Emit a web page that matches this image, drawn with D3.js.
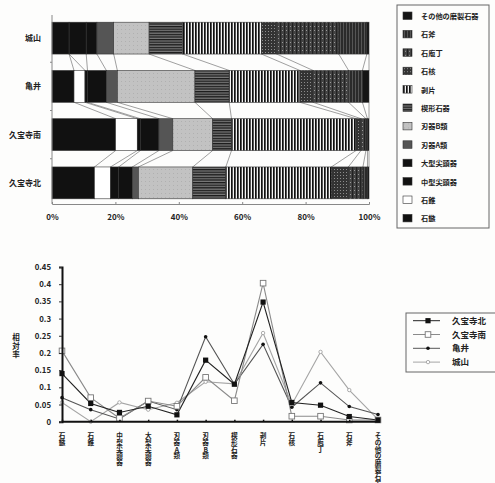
<!DOCTYPE html>
<html>
<head>
<meta charset="utf-8">
<script src="https://cdn.jsdelivr.net/npm/d3@7"></script>
<style>
  body { margin: 0; background: #fdfdfc; }
  text { font-family: "Noto Sans CJK JP", sans-serif; font-weight: bold; fill: #222; }
</style>
</head>
<body>
<svg id="chart" width="495" height="483"></svg>
<script>
// stone tool categories (x axis of the line chart / stack order of the bars)
const types = ["石鏃", "石錐", "中型尖頭器", "大型尖頭器", "刃器A類", "刃器B類", "楔形石器", "剥片", "石核", "石庖丁", "石斧", "その他の磨製石器"];
const barSites = ["城山", "亀井", "久宝寺南", "久宝寺北"];
const lineSites = ["久宝寺北", "久宝寺南", "亀井", "城山"];
const pctTicks = [0, 0.2, 0.4, 0.6, 0.8, 1];
const rateTicks = [0, 0.05, 0.1, 0.15, 0.2, 0.25, 0.3, 0.35, 0.4, 0.45];

// relative rates
const kyuhojiKita   = [0.14, 0.053, 0.027, 0.045, 0.02, 0.179, 0.109, 0.348, 0.056, 0.048, 0.015, 0.005];
const kyuhojiMinami = [0.206, 0.07, 0.01, 0.06, 0.045, 0.129, 0.061, 0.403, 0.016, 0.016, 0.005, 0.005];
const kamei         = [0.07, 0.035, 0.008, 0.06, 0.035, 0.247, 0.109, 0.225, 0.042, 0.113, 0.044, 0.021];
const jouyama       = [0.056, 0, 0.056, 0.035, 0.055, 0.116, 0.11, 0.258, 0.05, 0.203, 0.092, 0.007];

const seriesBySite = {"久宝寺北": kyuhojiKita, "久宝寺南": kyuhojiMinami, "亀井": kamei, "城山": jouyama};

const svg = d3.select("#chart");
const defs = svg.append("defs");

// fill patterns for the stacked bars
function pattern(id, w, h, bg, draw) {
    const p = defs.append("pattern").attr("id", id).attr("patternUnits", "userSpaceOnUse")
        .attr("width", w).attr("height", h);
    p.append("rect").attr("width", w).attr("height", h).attr("fill", bg);
    draw(p);
}
pattern("pVert", 3, 6, "#f4f4f4", p => p.append("rect").attr("width", 1.7).attr("height", 6).attr("fill", "#111"));
pattern("pHoriz", 6, 2.6, "#7a7a7a", p => p.append("rect").attr("width", 6).attr("height", 1.3).attr("fill", "#1a1a1a"));
pattern("pCore", 3, 3, "#333", p => p.append("rect").attr("x", 1).attr("y", 1).attr("width", 1).attr("height", 1).attr("fill", "#8c8c8c"));
pattern("pKnife", 4, 4, "#444", p => {
    p.append("rect").attr("width", 1.2).attr("height", 4).attr("fill", "#222");
    p.append("rect").attr("x", 2).attr("y", 2).attr("width", 1).attr("height", 1).attr("fill", "#999");
});
pattern("pAxe", 3, 4, "#2a2a2a", p => p.append("rect").attr("x", 1).attr("width", 1).attr("height", 4).attr("fill", "#555"));
pattern("pBlade", 4, 4, "#c2c2c2", p => p.append("rect").attr("x", 1).attr("y", 1).attr("width", 1).attr("height", 1).attr("fill", "#b0b0b0"));

const fills = ["#111", "#fff", "#111", "#111", "#555", "url(#pBlade)", "url(#pHoriz)", "url(#pVert)", "url(#pCore)", "url(#pKnife)", "url(#pAxe)", "#151515"];
const fillOf = d3.scaleOrdinal(types, fills);

/**
 * Stacked 100% bar chart
 */
const barRows = barSites.map(s => {
    const row = {site: s};
    types.forEach((t, i) => row[t] = seriesBySite[s][i]);
    return row;
});
const stacked = d3.stack().keys(types).offset(d3.stackOffsetExpand)(barRows);

const bx = d3.scaleLinear().domain([0, 1]).range([52, 369]);
const by = d3.scaleBand().domain(barSites).range([14, 207]).paddingInner(0.34).paddingOuter(0.17);

const barG = svg.append("g");

// connector lines between neighbouring bars
for (let i = 0; i < barSites.length - 1; i++) {
    stacked.forEach(layer => {
        barG.append("line")
            .attr("x1", bx(layer[i][1])).attr("y1", by(barSites[i]) + by.bandwidth())
            .attr("x2", bx(layer[i + 1][1])).attr("y2", by(barSites[i + 1]))
            .attr("stroke", "#777").attr("stroke-width", 0.7);
    });
}

barG.selectAll("g.layer")
    .data(stacked)
    .join("g")
    .attr("class", "layer")
    .attr("fill", d => fillOf(d.key))
    .selectAll("rect")
    .data(d => d)
    .join("rect")
    .attr("x", d => bx(d[0]))
    .attr("y", d => by(d.data.site))
    .attr("width", d => bx(d[1]) - bx(d[0]))
    .attr("height", by.bandwidth())
    .attr("stroke", "#333")
    .attr("stroke-width", 0.6);

// axes of the bar chart
const bxAxis = svg.append("g")
    .attr("transform", "translate(0,204)")
    .call(d3.axisBottom(bx).tickValues(pctTicks).tickFormat(d3.format(".0%")).tickSize(-2).tickPadding(10));
bxAxis.select(".domain").attr("stroke", "#888");
bxAxis.selectAll(".tick line").attr("stroke", "#888");
bxAxis.selectAll("text").style("font-size", "8px").attr("fill", "#222");

svg.append("line").attr("x1", 52).attr("x2", 52).attr("y1", 15).attr("y2", 204)
    .attr("stroke", "#888").attr("stroke-width", 1);
// small ticks between the bars on the category axis
svg.append("g").selectAll("line")
    .data(barSites.slice(0, -1))
    .join("line")
    .attr("x1", 50).attr("x2", 52)
    .attr("y1", d => by(d) + by.bandwidth() + (by.step() - by.bandwidth()) / 2)
    .attr("y2", d => by(d) + by.bandwidth() + (by.step() - by.bandwidth()) / 2)
    .attr("stroke", "#888");

svg.append("g").selectAll("text")
    .data(barSites)
    .join("text")
    .attr("x", 41)
    .attr("y", d => by(d) + by.bandwidth() / 2 + 3)
    .attr("text-anchor", "end")
    .style("font-size", "8px")
    .text(d => d);

// bar legend (reverse stack order)
const bLeg = svg.append("g");
bLeg.append("rect").attr("x", 397).attr("y", 5).attr("width", 92).attr("height", 223)
    .attr("fill", "none").attr("stroke", "#666").attr("stroke-width", 1);
bLeg.selectAll("g.item")
    .data(types.slice().reverse())
    .join("g")
    .attr("class", "item")
    .attr("transform", (d, i) => `translate(403,${12 + i * 18.4})`)
    .call(g => {
        g.append("rect").attr("width", 9).attr("height", 7.5)
            .attr("fill", d => fillOf(d)).attr("stroke", "#333").attr("stroke-width", 0.6);
        g.append("text").attr("x", 18).attr("y", 7).style("font-size", "7.2px").text(d => d);
    });

/**
 * Line chart of relative rates
 */
const lx = d3.scalePoint().domain(types).range([62, 378]);
const ly = d3.scaleLinear().domain([0, 0.45]).range([421.7, 267]);

const styles = {
    "久宝寺北": {stroke: "#222", width: 1.1},
    "久宝寺南": {stroke: "#8a8a8a", width: 1.1},
    "亀井":     {stroke: "#555", width: 1.1},
    "城山":     {stroke: "#a5a5a5", width: 1.1}
};

const line = d3.line().x((d, i) => lx(types[i])).y(d => ly(d));

function drawMarker(g, site, x, y) {
    if (site === "久宝寺北") {
        g.append("rect").attr("x", x - 2.6).attr("y", y - 2.6).attr("width", 5.2).attr("height", 5.2).attr("fill", "#111");
    } else if (site === "久宝寺南") {
        g.append("rect").attr("x", x - 2.8).attr("y", y - 2.8).attr("width", 5.6).attr("height", 5.6)
            .attr("fill", "#fff").attr("stroke", "#777").attr("stroke-width", 0.9);
    } else if (site === "亀井") {
        g.append("circle").attr("cx", x).attr("cy", y).attr("r", 1.8).attr("fill", "#111");
    } else {
        g.append("circle").attr("cx", x).attr("cy", y).attr("r", 1.7)
            .attr("fill", "#fff").attr("stroke", "#999").attr("stroke-width", 0.8);
    }
}

const lineG = svg.append("g");
lineSites.slice().reverse().forEach(site => {
    lineG.append("path")
        .datum(seriesBySite[site])
        .attr("d", line)
        .attr("fill", "none")
        .attr("stroke", styles[site].stroke)
        .attr("stroke-width", styles[site].width);
});
lineSites.slice().reverse().forEach(site => {
    const mg = lineG.append("g");
    seriesBySite[site].forEach((v, i) => drawMarker(mg, site, lx(types[i]), ly(v)));
});

// y axis
const lyAxis = svg.append("g")
    .attr("transform", "translate(62,0)")
    .call(d3.axisLeft(ly).tickValues(rateTicks).tickFormat(d => d === 0 ? "0" : String(+d.toFixed(2))).tickSize(3).tickPadding(8));
lyAxis.select(".domain").attr("stroke", "#111").attr("stroke-width", 2);
lyAxis.selectAll(".tick line").attr("stroke", "#333");
lyAxis.selectAll("text").style("font-size", "7.8px").attr("fill", "#222");

// x axis
const lxAxis = svg.append("g")
    .attr("transform", "translate(0,421.7)")
    .call(d3.axisBottom(lx).tickSize(-2).tickFormat(""));
lxAxis.select(".domain").attr("d", "M62,0H380").attr("stroke", "#111").attr("stroke-width", 2);
lxAxis.selectAll(".tick line").attr("stroke", "#111").attr("stroke-width", 1.5);

// vertical category labels (one character per line)
svg.append("g").selectAll("text")
    .data(types)
    .join("text")
    .attr("text-anchor", "middle")
    .style("font-size", "6.6px")
    .each(function (d) {
        const t = d3.select(this);
        Array.from(d).forEach((ch, i) => {
            t.append("tspan").attr("x", lx(d)).attr("y", 438 + i * 6.8).text(ch);
        });
    });

// y label
const yLab = svg.append("text").attr("text-anchor", "middle").style("font-size", "7.5px");
Array.from("相対率").forEach((ch, i) => {
    yLab.append("tspan").attr("x", 16).attr("y", 340 + i * 8.5).text(ch);
});

// line legend
const lLeg = svg.append("g");
lLeg.append("rect").attr("x", 406).attr("y", 313).attr("width", 100).attr("height", 59)
    .attr("fill", "none").attr("stroke", "#666").attr("stroke-width", 1);
lineSites.forEach((site, i) => {
    const y = 320.7 + i * 13.8;
    const g = lLeg.append("g");
    g.append("line").attr("x1", 413).attr("x2", 440).attr("y1", y).attr("y2", y)
        .attr("stroke", styles[site].stroke).attr("stroke-width", 1);
    drawMarker(g, site, 428, y);
    g.append("text").attr("x", 452).attr("y", y + 3).style("font-size", "8.5px").text(site);
});
</script>
</body>
</html>
